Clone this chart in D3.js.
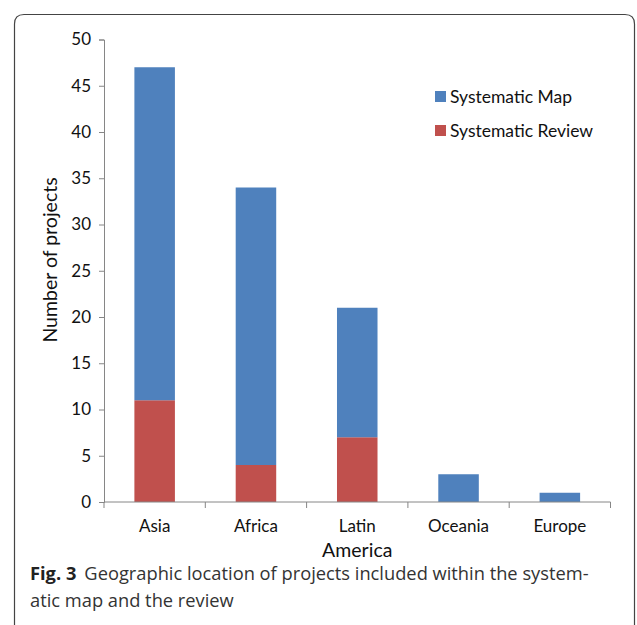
<!DOCTYPE html>
<html>
<head>
<meta charset="utf-8">
<script src="https://cdn.jsdelivr.net/npm/d3@7"></script>
<style>
  body { margin: 0; background: #fff; }
  text { font-family: Lato, "Open Sans", sans-serif; fill: #111; }
  .caption { font-family: "Open Sans", "Noto Sans", sans-serif; fill: #333; }
</style>
</head>
<body>
<div class="chart"></div>
<script>
// Data
var regions = ["Asia", "Africa", "Latin America", "Oceania", "Europe"];
var reviewCounts = [11, 4, 7, 0, 0];
var mapCounts = [36, 30, 14, 3, 1];
var seriesNames = ["Systematic Map", "Systematic Review"];
var seriesColors = ["#4F81BD", "#C0504D"];
var yTicks = [0, 5, 10, 15, 20, 25, 30, 35, 40, 45, 50];

var svgWidth = 637;
var svgHeight = 625;

var svg = d3.select(".chart")
  .append("svg")
  .attr("width", svgWidth)
  .attr("height", svgHeight);

// figure frame (rounded top corners, open at the bottom)
svg.append("path")
  .attr("d", "M14.5,625 L14.5,24 Q14.5,14.5 24,14.5 L625,14.5 Q634.5,14.5 634.5,24 L634.5,625")
  .attr("fill", "none")
  .attr("stroke", "#444")
  .attr("stroke-width", 1.2);

var x0 = 104, x1 = 610.5, yTop = 39.5, yBottom = 502;

var xScale = d3.scaleBand().domain(regions).range([x0, x1]).padding(0);
var yScale = d3.scaleLinear().domain([0, 50]).range([yBottom, yTop]);

var barWidth = xScale.bandwidth() * 0.4;

// stack data
var rows = regions.map((r, i) => ({ region: r, review: reviewCounts[i], map: mapCounts[i] }));
var stack = d3.stack().keys(["review", "map"])(rows);

var chartGroup = svg.append("g");

chartGroup.selectAll("g.layer")
  .data(stack)
  .enter()
  .append("g")
  .attr("class", "layer")
  .attr("fill", (d, i) => i === 0 ? seriesColors[1] : seriesColors[0])
  .selectAll("rect")
  .data(d => d.filter(s => s[1] - s[0] > 0))
  .enter()
  .append("rect")
  .attr("x", d => xScale(d.data.region) + (xScale.bandwidth() - barWidth) / 2)
  .attr("y", d => yScale(d[1]))
  .attr("width", barWidth)
  .attr("height", d => yScale(d[0]) - yScale(d[1]));

// y axis
var yAxis = d3.axisLeft(yScale).tickValues(yTicks).tickSize(5).tickPadding(8);
var yg = chartGroup.append("g")
  .attr("transform", `translate(${x0}, 0)`)
  .call(yAxis);
yg.selectAll("path, line").attr("stroke", "#868686");
yg.selectAll("text").attr("font-size", 17).attr("font-family", "Lato, sans-serif").attr("fill", "#111");

// x axis with ticks at band boundaries
var xg = chartGroup.append("g")
  .attr("transform", `translate(0, ${yBottom})`);
xg.append("line")
  .attr("x1", x0).attr("x2", x1)
  .attr("stroke", "#868686");
var boundaries = regions.map(r => xScale(r)).concat([x1]);
xg.selectAll("line.tick")
  .data(boundaries)
  .enter()
  .append("line")
  .attr("class", "tick")
  .attr("x1", d => d).attr("x2", d => d)
  .attr("y1", 0).attr("y2", 6)
  .attr("stroke", "#868686");

xg.selectAll("text.cat")
  .data(regions)
  .enter()
  .append("text")
  .attr("class", "cat")
  .attr("text-anchor", "middle")
  .attr("x", d => xScale(d) + xScale.bandwidth() / 2)
  .attr("y", 30)
  .attr("font-size", 17)
  .each(function(d) {
    var parts = d === "Latin America" ? ["Latin", "America"] : [d];
    var t = d3.select(this);
    parts.forEach((p, i) => {
      t.append("tspan")
        .attr("x", xScale(d) + xScale.bandwidth() / 2)
        .attr("dy", i === 0 ? 0 : 25)
        .attr("font-size", i === 0 ? 17 : 19.5)
        .text(p);
    });
  });

// y axis label
chartGroup.append("text")
  .attr("transform", "rotate(-90)")
  .attr("x", -260)
  .attr("y", 57)
  .attr("text-anchor", "middle")
  .attr("font-size", 19.5)
  .text("Number of projects");

// legend
var legend = chartGroup.selectAll("g.legend")
  .data(seriesNames)
  .enter()
  .append("g")
  .attr("class", "legend")
  .attr("transform", (d, i) => `translate(435, ${91 + i * 34})`);
legend.append("rect")
  .attr("width", 11).attr("height", 11)
  .attr("fill", (d, i) => seriesColors[i]);
legend.append("text")
  .attr("x", 15)
  .attr("y", 11.5)
  .attr("font-size", 17.5)
  .text(d => d);

// caption
var cap = svg.append("text")
  .attr("class", "caption")
  .attr("x", 30)
  .attr("y", 580)
  .attr("font-size", 18.3);
cap.append("tspan").attr("font-weight", "bold").attr("fill", "#222").text("Fig. 3");
cap.append("tspan").attr("dx", 8).text("Geographic location of projects included within the system-");
svg.append("text")
  .attr("class", "caption")
  .attr("x", 30)
  .attr("y", 607)
  .attr("font-size", 18.3)
  .text("atic map and the review");
</script>
</body>
</html>
